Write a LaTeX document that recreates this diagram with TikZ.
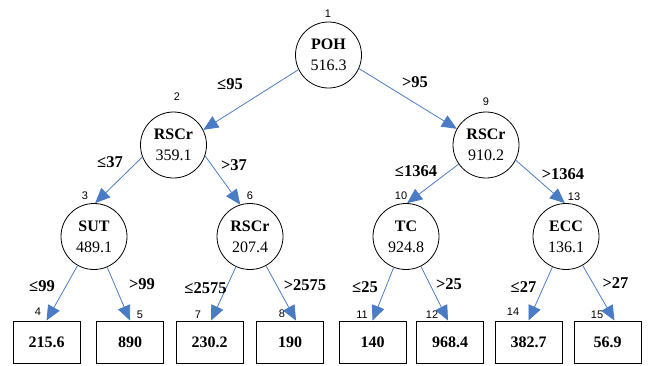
\documentclass[tikz,border=0pt]{standalone}
\usepackage{fontspec}
\setmainfont{Liberation Serif}
\newfontfamily\numfont{Liberation Sans}
\usetikzlibrary{arrows.meta}
\definecolor{edgeblue}{HTML}{4A7CC6}
\tikzset{
  split/.style={circle,draw=black,line width=0.8pt,minimum size=66pt,inner sep=0pt,align=center,font=\fontsize{16}{21}\selectfont},
  leaf/.style={rectangle,draw=black,line width=0.8pt,minimum width=67pt,minimum height=42pt,inner sep=0pt,font=\fontsize{16}{19}\selectfont\bfseries},
  idx/.style={inner sep=0pt,font=\numfont\fontsize{11}{13}\selectfont},
  cond/.style={inner sep=0pt,font=\fontsize{16.5}{19}\selectfont\bfseries},
  arr/.style={draw=edgeblue,line width=0.8pt,-{Triangle[length=15pt,width=13pt]}}
}
\begin{document}
\begin{tikzpicture}[x=1pt,y=-1pt]
\useasboundingbox (0,0) rectangle (648,365);
% split nodes
\node[split] (n1) at (328.5,55) {\textbf{POH}\\516.3};
\node[split] (n2) at (173.5,145) {\textbf{RSCr}\\359.1};
\node[split] (n9) at (486,145) {\textbf{RSCr}\\910.2};
\node[split] (n3) at (94,236.5) {\textbf{SUT}\\489.1};
\node[split] (n6) at (250,236.5) {\textbf{RSCr}\\207.4};
\node[split] (n10) at (406,236.5) {\textbf{TC}\\924.8};
\node[split] (n13) at (566,236.5) {\textbf{ECC}\\136.1};
% leaves
\node[leaf] (b4) at (46.5,342) {215.6};
\node[leaf] (b5) at (130,342) {890};
\node[leaf] (b7) at (209.5,342) {230.2};
\node[leaf] (b8) at (290,342) {190};
\node[leaf] (b11) at (372.5,342) {140};
\node[leaf] (b12) at (450,342) {968.4};
\node[leaf] (b14) at (528.5,342) {382.7};
\node[leaf] (b15) at (607.5,342) {56.9};
% indices
\node[idx] (i1) at (328,14) {1};
\node[idx] (i2) at (177,97) {2};
\node[idx] (i9) at (486,102) {9};
\node[idx] (i3) at (85,196) {3};
\node[idx] (i6) at (250,196) {6};
\node[idx] (i10) at (401,196) {10};
\node[idx] (i13) at (574,197) {13};
\node[idx] (i4) at (38,312) {4};
\node[idx] (i5) at (140,315) {5};
\node[idx] (i7) at (198,315) {7};
\node[idx] (i8) at (282,314) {8};
\node[idx] (i11) at (362,315) {11};
\node[idx] (i12) at (432,315) {12};
\node[idx] (i14) at (513,312) {14};
\node[idx] (i15) at (597,315) {15};
% connectors
\draw[arr] (n1.206) -- (n2.27);
\draw[arr] (n1.336) -- (n9.151);
\draw[arr] (n2.201) -- (n3.88);
\draw[arr] (n2.341) -- (n6.107);
\draw[arr] (n9.215) -- (n10.88);
\draw[arr] (n9.333) -- (n13.92);
\draw[arr] (n3) -- (b4.north);
\draw[arr] (n3) -- (b5.north);
\draw[arr] (n6) -- ([xshift=1.5pt]b7.north);
\draw[arr] (n6) -- ([xshift=6pt]b8.north);
\draw[arr] (n10) -- (b11.north);
\draw[arr] (n10) -- ([xshift=-2pt]b12.north);
\draw[arr] (n13) -- (b14.north);
\draw[arr] (n13) -- ([xshift=7pt]b15.north);
% conditions
\node[cond] (c12) at (230,84.5) {≤95};
\node[cond] (c19) at (415,82) {>95};
\node[cond] (c23) at (110,162.5) {≤37};
\node[cond] (c26) at (234,165) {>37};
\node[cond] (c910) at (416,171) {≤1364};
\node[cond] (c913) at (563,174) {>1364};
\node[cond] (c34) at (42,286) {≤99};
\node[cond] (c35) at (142,284.5) {>99};
\node[cond] (c67) at (205.5,288) {≤2575};
\node[cond] (c68) at (305,285) {>2575};
\node[cond] (c1011) at (365,287.5) {≤25};
\node[cond] (c1012) at (449,284.5) {>25};
\node[cond] (c1314) at (523.5,287) {≤27};
\node[cond] (c1315) at (615.5,283.5) {>27};
\end{tikzpicture}
\end{document}
